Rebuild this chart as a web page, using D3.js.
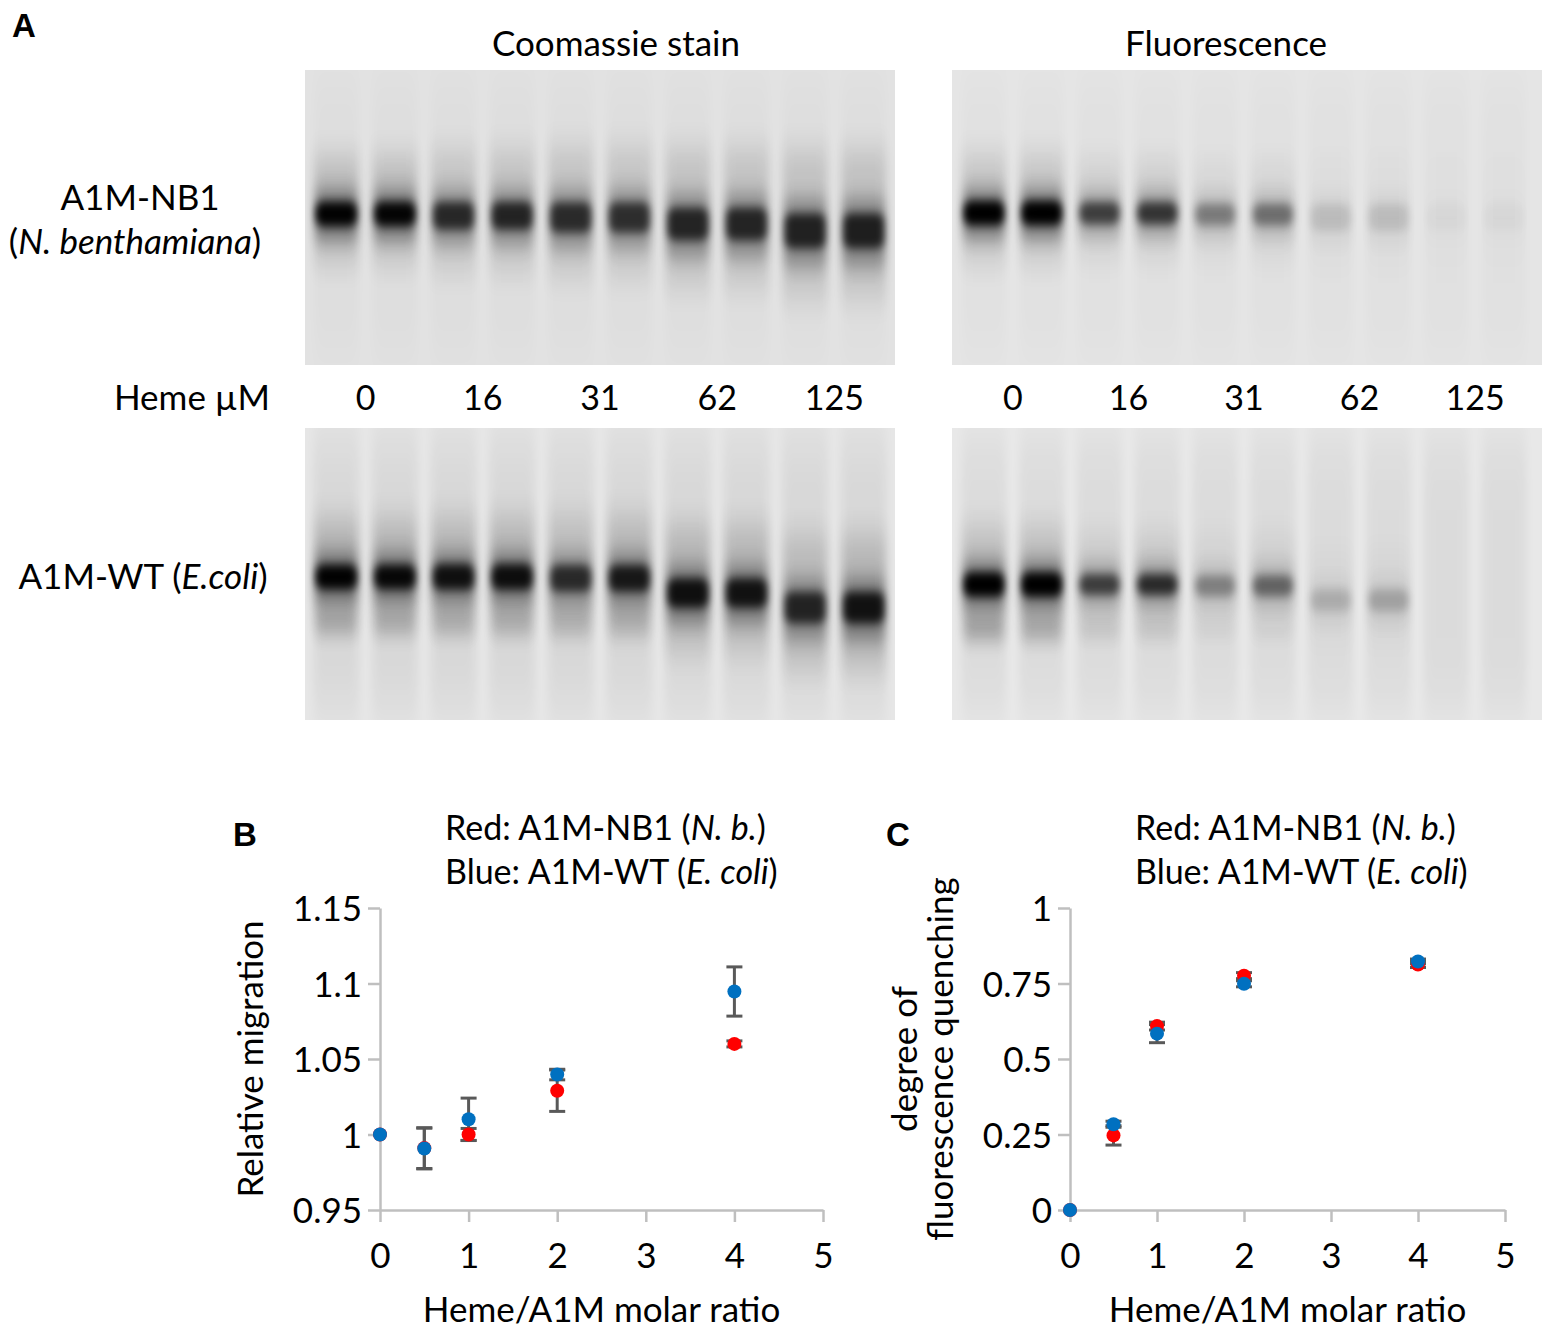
<!DOCTYPE html>
<html><head><meta charset="utf-8">
<script src="https://cdn.jsdelivr.net/npm/d3@7"></script>
<style>
body{margin:0;background:#fff}
svg{display:block}
text{font-family:Lato,"Open Sans",sans-serif;fill:#000}
.panel{font-family:"Liberation Sans",Arial,sans-serif;font-weight:bold}
</style>
</head><body>
<svg id="fig" width="1545" height="1330"></svg>
<script>
// ---------------- DATA ----------------
const lanes = d3.range(10);
const hemeLabels = ["0", "16", "31", "62", "125"];

// Gel bands: intensity (0-1), migration (fraction of gel height), spread (band thickness factor)
const nbCoomassieIntensity = [1.0, 0.98, 0.72, 0.75, 0.7, 0.68, 0.74, 0.74, 0.76, 0.78];
const nbCoomassiePos       = [0.488, 0.488, 0.494, 0.494, 0.5, 0.5, 0.522, 0.522, 0.545, 0.545];
const nbCoomassieSpread    = [1.0, 1.0, 1.15, 1.15, 1.25, 1.25, 1.35, 1.35, 1.45, 1.45];

const nbFluorIntensity = [1.0, 1.0, 0.6, 0.65, 0.33, 0.38, 0.1, 0.1, 0.02, 0.02];
const nbFluorPos       = [0.485, 0.485, 0.485, 0.485, 0.49, 0.49, 0.5, 0.5, 0.5, 0.5];
const nbFluorSpread    = [1.0, 1.0, 0.9, 0.9, 0.9, 0.9, 1.1, 1.1, 1.1, 1.1];

const wtCoomassieIntensity = [1.0, 0.95, 0.88, 0.9, 0.7, 0.82, 0.88, 0.86, 0.74, 0.86];
const wtCoomassiePos       = [0.51, 0.51, 0.51, 0.51, 0.515, 0.515, 0.565, 0.565, 0.615, 0.615];
const wtCoomassieSpread    = [1.0, 1.0, 1.05, 1.05, 1.1, 1.1, 1.2, 1.2, 1.3, 1.3];
const wtCoomassieLower     = [0.22, 0.2, 0.18, 0.18, 0.16, 0.16, 0, 0, 0, 0];
const wtCoomassieLowerPos  = [0.665, 0.665, 0.665, 0.665, 0.665, 0.665, 0.7, 0.7, 0.7, 0.7];

const wtFluorIntensity = [1.0, 1.0, 0.6, 0.7, 0.3, 0.42, 0.14, 0.18, 0, 0];
const wtFluorPos       = [0.536, 0.536, 0.536, 0.536, 0.54, 0.54, 0.59, 0.59, 0.6, 0.6];
const wtFluorSpread    = [1.0, 1.0, 0.85, 0.85, 0.85, 0.85, 0.9, 0.9, 1, 1];
const wtFluorLower     = [0.28, 0.24, 0.1, 0.1, 0.04, 0.04, 0, 0, 0, 0];
const wtFluorLowerPos  = [0.685, 0.685, 0.685, 0.685, 0.685, 0.685, 0.7, 0.7, 0.7, 0.7];

// Scatter data
const ratio = [0, 0.5, 1, 2, 4];
const xTicks = [0, 1, 2, 3, 4, 5];

const migRed      = [1.0, 0.991, 1.0, 1.029, 1.060];
const migRedErr   = [0, 0.0135, 0.004, 0.0137, 0.002];
const migBlue     = [1.0, 0.9907, 1.0101, 1.0397, 1.0947];
const migBlueErr  = [0, 0.0135, 0.014, 0.0035, 0.0163];
const migTicks    = [0.95, 1, 1.05, 1.1, 1.15];
const migTickLabels = ["0.95", "1", "1.05", "1.1", "1.15"];

const quenchRed     = [0, 0.247, 0.609, 0.776, 0.813];
const quenchRedErr  = [0, 0.032, 0.013, 0.01, 0.01];
const quenchBlue    = [0, 0.284, 0.584, 0.749, 0.823];
const quenchBlueErr = [0, 0.01, 0.03, 0.01, 0.008];
const quenchTicks   = [0, 0.25, 0.5, 0.75, 1];
const quenchTickLabels = ["0", "0.25", "0.5", "0.75", "1"];

// ---------------- DRAW ----------------
const FS = 35;
const svg = d3.select("#fig");
const defs = svg.append("defs");
function blur(id, sx, sy) {
  const f = defs.append("filter").attr("id", id)
    .attr("x", "-60%").attr("y", "-150%").attr("width", "220%").attr("height", "400%");
  f.append("feGaussianBlur").attr("stdDeviation", sx + " " + sy);
}
blur("bCore", 3.5, 5);
blur("bHalo", 4.5, 10);
blur("bSmear", 5, 16);
blur("bLane", 5, 30);
let clipN = 0;

function gel(gx, gy, gw, gh, rangePad, opt) {
  const id = "clip" + (clipN++);
  defs.append("clipPath").attr("id", id).append("rect")
    .attr("x", gx).attr("y", gy).attr("width", gw).attr("height", gh);
  const g = svg.append("g").attr("clip-path", `url(#${id})`);
  g.append("rect").attr("x", gx).attr("y", gy).attr("width", gw).attr("height", gh)
    .attr("fill", opt.bg);
  const xs = d3.scaleBand().domain(lanes).range([gx + rangePad[0], gx + gw - rangePad[1]]).paddingInner(0.24).paddingOuter(0.12);
  const ys = d3.scaleLinear().domain([0, 1]).range([gy, gy + gh]);
  const bw = xs.bandwidth();
  // lane streaks
  g.selectAll(null).data(lanes).join("rect")
    .attr("x", d => xs(d)).attr("width", bw)
    .attr("y", gy + 10).attr("height", gh - 20)
    .attr("fill", "#000").attr("opacity", opt.lane).attr("filter", "url(#bLane)");
  lanes.forEach(i => {
    const I = opt.inten[i], s = opt.spread[i], cy = ys(opt.pos[i]);
    if (I <= 0) return;
    g.append("rect").attr("x", xs(i)).attr("width", bw)
      .attr("y", cy - 55 * s).attr("height", 100 * s)
      .attr("fill", "#000").attr("opacity", opt.smear * I).attr("filter", "url(#bSmear)");
    g.append("rect").attr("x", xs(i) + 1).attr("width", bw - 2).attr("rx", 8)
      .attr("y", cy - 22 * s).attr("height", 46 * s)
      .attr("fill", "#000").attr("opacity", 0.42 * I).attr("filter", "url(#bHalo)");
    g.append("rect").attr("x", xs(i) + 2).attr("width", bw - 4).attr("rx", 8)
      .attr("y", cy - 12 * s).attr("height", 24 * s)
      .attr("fill", "#050505").attr("opacity", Math.min(1, opt.core * I)).attr("filter", "url(#bCore)");
  });
  if (opt.lower) {
    lanes.forEach(i => {
      const I = opt.lower[i]; if (I <= 0) return;
      const cy = ys(opt.lowerPos[i]);
      g.append("rect").attr("x", xs(i) + 2).attr("width", bw - 4).attr("rx", 6)
        .attr("y", cy - 9).attr("height", 18)
        .attr("fill", "#000").attr("opacity", I).attr("filter", "url(#bHalo)");
    });
  }
  return xs;
}

const gelTopY = 70, gelTopH = 295, gelBotY = 428, gelBotH = 292;
const xsNbC = gel(305, gelTopY, 590, gelTopH, [2, 2], {bg: "#e2e2e2", lane: 0.015, smear: 0.16, core: 0.98,
  inten: nbCoomassieIntensity, pos: nbCoomassiePos, spread: nbCoomassieSpread});
const xsNbF = gel(952, gelTopY, 590, gelTopH, [3, 9], {bg: "#e5e5e5", lane: 0.015, smear: 0.13, core: 1.0,
  inten: nbFluorIntensity, pos: nbFluorPos, spread: nbFluorSpread});
gel(305, gelBotY, 590, gelBotH, [2, 2], {bg: "#e6e6e6", lane: 0.06, smear: 0.18, core: 0.98,
  inten: wtCoomassieIntensity, pos: wtCoomassiePos, spread: wtCoomassieSpread,
  lower: wtCoomassieLower, lowerPos: wtCoomassieLowerPos});
gel(952, gelBotY, 590, gelBotH, [3, 9], {bg: "#e8e8e8", lane: 0.05, smear: 0.14, core: 1.0,
  inten: wtFluorIntensity, pos: wtFluorPos, spread: wtFluorSpread,
  lower: wtFluorLower, lowerPos: wtFluorLowerPos});

// Heme labels under top gels (centered between lane pairs)
[xsNbC, xsNbF].forEach(xs => {
  svg.selectAll(null).data(hemeLabels).join("text")
    .attr("x", (d, k) => (xs(2 * k) + xs(2 * k + 1) + xs.bandwidth()) / 2)
    .attr("y", 410).attr("text-anchor", "middle").attr("font-size", 34).text(d => d);
});

// Panel A texts
svg.append("text").attr("class", "panel").attr("x", 12).attr("y", 37).attr("font-size", 33).text("A");
svg.append("text").attr("x", 616).attr("y", 56).attr("text-anchor", "middle").attr("font-size", FS).text("Coomassie stain");
svg.append("text").attr("x", 1226).attr("y", 56).attr("text-anchor", "middle").attr("font-size", FS).text("Fluorescence");
svg.append("text").attr("x", 140).attr("y", 210).attr("text-anchor", "middle").attr("font-size", FS).text("A1M-NB1");
const nb = svg.append("text").attr("x", 135).attr("y", 254).attr("text-anchor", "middle").attr("font-size", FS);
nb.append("tspan").text("(");
nb.append("tspan").attr("font-style", "italic").text("N. benthamiana");
nb.append("tspan").text(")");
svg.append("text").attr("x", 192).attr("y", 410).attr("text-anchor", "middle").attr("font-size", FS).text("Heme µM");
const wt = svg.append("text").attr("x", 143).attr("y", 589).attr("text-anchor", "middle").attr("font-size", FS);
wt.append("tspan").text("A1M-WT (");
wt.append("tspan").attr("font-style", "italic").text("E.coli");
wt.append("tspan").text(")");

// ---------------- SCATTER PANELS ----------------
function scatter(o) {
  const x = d3.scaleLinear().domain([0, 5]).range([o.x0, o.x1]);
  const y = d3.scaleLinear().domain([o.ticks[0], o.ticks[o.ticks.length - 1]]).range([o.yb, o.yt]);
  const g = svg.append("g");
  const ax = g.append("g").attr("transform", `translate(0,${o.yb})`)
    .call(d3.axisBottom(x).tickValues(xTicks).tickSize(12).tickSizeOuter(0).tickPadding(14).tickFormat(d3.format("d")));
  const ay = g.append("g").attr("transform", `translate(${o.x0},0)`)
    .call(d3.axisLeft(y).tickValues(o.ticks).tickSize(12).tickSizeOuter(0).tickPadding(6).tickFormat((d, i) => o.tickLabels[i]));
  [ax, ay].forEach(a => {
    a.select(".domain").attr("stroke", "#bfbfbf").attr("stroke-width", 2.5);
    a.selectAll(".tick line").attr("stroke", "#bfbfbf").attr("stroke-width", 2.5);
    a.selectAll(".tick text").attr("font-family", "Lato, sans-serif").attr("font-size", FS).attr("fill", "#000");
  });
  ax.selectAll(".tick text").attr("dy", "0.9em");
  ay.selectAll(".tick text").attr("dy", "0.36em");

  const series = [
    {v: o.red, e: o.redErr, c: "#ff0000"},
    {v: o.blue, e: o.blueErr, c: "#0070c0"}
  ];
  series.forEach(s => {
    ratio.forEach((r, i) => {
      if (!s.e[i]) return;
      const cx = x(r), lo = y(s.v[i] - s.e[i]), hi = y(s.v[i] + s.e[i]);
      g.append("line").attr("x1", cx).attr("x2", cx).attr("y1", lo).attr("y2", hi)
        .attr("stroke", "#595959").attr("stroke-width", 3);
      [lo, hi].forEach(yy => g.append("line").attr("x1", cx - 8).attr("x2", cx + 8).attr("y1", yy).attr("y2", yy)
        .attr("stroke", "#595959").attr("stroke-width", 3));
    });
  });
  series.forEach(s => {
    g.selectAll(null).data(ratio).join("circle")
      .attr("cx", d => x(d)).attr("cy", (d, i) => y(s.v[i])).attr("r", 7).attr("fill", s.c);
  });

  const t1 = svg.append("text").attr("x", o.tx).attr("y", 840).attr("font-size", 34);
  t1.append("tspan").text("Red: A1M-NB1 (");
  t1.append("tspan").attr("font-style", "italic").text("N. b.");
  t1.append("tspan").text(")");
  const t2 = svg.append("text").attr("x", o.tx).attr("y", 884).attr("font-size", 34);
  t2.append("tspan").text("Blue: A1M-WT (");
  t2.append("tspan").attr("font-style", "italic").text("E. coli");
  t2.append("tspan").text(")");
  svg.append("text").attr("class", "panel").attr("x", o.px).attr("y", 846).attr("font-size", 33).text(o.panel);
  svg.append("text").attr("x", (o.x0 + o.x1) / 2).attr("y", 1322).attr("text-anchor", "middle")
    .attr("font-size", FS).text("Heme/A1M molar ratio");
  o.ylabel.forEach((lab, k) => {
    svg.append("text").attr("transform", `translate(${o.lx[k]},${(o.yt + o.yb) / 2}) rotate(-90)`)
      .attr("text-anchor", "middle").attr("dy", "0.35em").attr("font-size", FS).text(lab);
  });
}

scatter({x0: 380, x1: 823, yt: 908, yb: 1210, ticks: migTicks, tickLabels: migTickLabels,
  red: migRed, redErr: migRedErr, blue: migBlue, blueErr: migBlueErr,
  tx: 445, px: 233, panel: "B", ylabel: ["Relative migration"], lx: [251]});
scatter({x0: 1070, x1: 1505, yt: 908, yb: 1210, ticks: quenchTicks, tickLabels: quenchTickLabels,
  red: quenchRed, redErr: quenchRedErr, blue: quenchBlue, blueErr: quenchBlueErr,
  tx: 1135, px: 886, panel: "C", ylabel: ["degree of", "fluorescence quenching"], lx: [905, 941]});
</script>
</body></html>
